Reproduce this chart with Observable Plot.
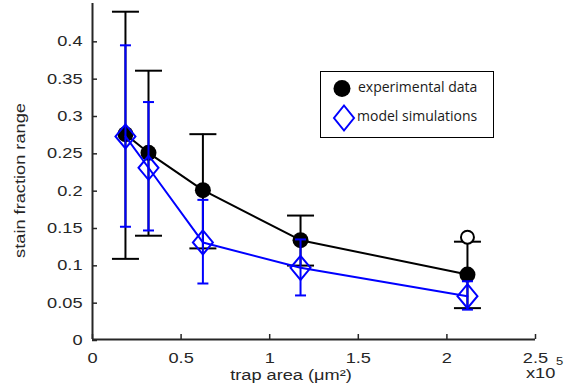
<!DOCTYPE html>
<html>
<head>
<meta charset="utf-8">
<script src="https://cdn.jsdelivr.net/npm/d3@7"></script>
<script src="https://cdn.jsdelivr.net/npm/@observablehq/plot@0.6"></script>
<style>
  html, body { margin: 0; padding: 0; background: #fff; }
  #wrap { position: relative; width: 566px; height: 392px; overflow: hidden; }
  #legend { position: absolute; left: 320px; top: 71px; width: 174px; height: 67px; border: 1px solid #000; background: #fff; box-sizing: border-box; font-family: "Open Sans", sans-serif; font-size: 14px; color: #1a1a1a; }
  #legend .row { position: absolute; left: 0; white-space: nowrap; }
  #legend svg { position: absolute; left: 0; top: 0; }
  .expo { position: absolute; font-family: "Liberation Sans", Arial, sans-serif; color: #262626; white-space: nowrap; transform: scaleX(1.3); transform-origin: left center; }
  #expoBase { left: 526px; top: 367.5px; font-size: 14px; line-height: 10px; }
  #expoPow { left: 556px; top: 357px; font-size: 10px; line-height: 9px; }
</style>
</head>
<body>
<div id="wrap"></div>
<script>
// trap area in units of 1e5 µm²
const xArea = [0.186, 0.316, 0.623, 1.174, 2.116];
// experimental data (black)
const expMean = [0.275, 0.250, 0.200, 0.133, 0.087];
const expLow  = [0.108, 0.139, 0.122, 0.099, 0.042];
const expHigh = [0.439, 0.360, 0.275, 0.166, 0.131];
// model simulations (blue)
const simMean = [0.272, 0.230, 0.130, 0.096, 0.058];
const simLow  = [0.151, 0.146, 0.075, 0.059, 0.040];
const simHigh = [0.394, 0.318, 0.187, 0.134, 0.078];
// extra open-circle point
const openX = [2.116];
const openY = [0.137];
// ticks
const xTicks = [0, 0.5, 1, 1.5, 2, 2.5];
const yTicks = [0, 0.05, 0.1, 0.15, 0.2, 0.25, 0.3, 0.35, 0.4];
const xLabel = "trap area (\u03bcm\u00b2)";
const yLabel = "stain fraction range";
const expoBase = "x10";
const expoPow = "5";
const legendLabels = ["experimental data", "model simulations"];

const exp = xArea.map((x, i) => ({x, y: expMean[i], lo: expLow[i], hi: expHigh[i]}));
const sim = xArea.map((x, i) => ({x, y: simMean[i], lo: simLow[i], hi: simHigh[i]}));
const open = openX.map((x, i) => ({x, y: openY[i]}));

const capSymbol = {
  draw(ctx, size) {
    const w = Math.sqrt(size / Math.PI);
    ctx.moveTo(-w, 0); ctx.lineTo(w, 0);
  }
};
const diamondSymbol = {
  draw(ctx, size) {
    const w = Math.sqrt(size / Math.PI), h = w * 1.2;
    ctx.moveTo(0, -h); ctx.lineTo(w, 0); ctx.lineTo(0, h); ctx.lineTo(-w, 0); ctx.closePath();
  }
};

const axisColor = "#262626";
const fmt = d => String(d);
const FF = "Liberation Sans";
const FS = 14;

const chart = Plot.plot({
  width: 566, height: 392,
  marginLeft: 92, marginRight: 31, marginTop: 3, marginBottom: 53,
  x: {domain: [0, 2.5]},
  y: {domain: [0, 0.45]},
  style: {"font-family": "Liberation Sans, Arial, sans-serif", "font-size": "14px", color: axisColor, background: "white"},
  marks: [
    Plot.axisX({ticks: xTicks, tickFormat: fmt, tickSize: -5, tickPadding: 19, label: null, strokeWidth: 1.5, fontSize: FS, fontFamily: FF}),
    Plot.axisY({ticks: yTicks, tickFormat: fmt, tickSize: -5, tickPadding: 15, label: null, strokeWidth: 1.5, fontSize: FS, fontFamily: FF, dy: 1}),
    Plot.ruleX([0], {stroke: axisColor, strokeWidth: 2}),
    Plot.ruleY([0], {stroke: axisColor, strokeWidth: 2}),
    Plot.text([xLabel], {text: d => d, frameAnchor: "bottom", dx: -23, dy: 40, fontSize: FS, fontFamily: FF, fill: axisColor}),
    Plot.text([yLabel], {text: d => d, frameAnchor: "left", textAnchor: "middle", rotate: -90, dx: -72, dy: 9, fontSize: FS, fontFamily: FF, fill: axisColor}),
    // experimental
    Plot.line(exp, {x: "x", y: "y", stroke: "#000", strokeWidth: 2}),
    Plot.ruleX(exp, {x: "x", y1: "lo", y2: "hi", stroke: "#000", strokeWidth: 2}),
    Plot.dot(exp, {x: "x", y: "lo", symbol: capSymbol, r: 13.5, stroke: "#000", strokeWidth: 2, fill: "none"}),
    Plot.dot(exp, {x: "x", y: "hi", symbol: capSymbol, r: 13.5, stroke: "#000", strokeWidth: 2, fill: "none"}),
    Plot.dot(exp, {x: "x", y: "y", r: 8, fill: "#000", stroke: "none"}),
    Plot.dot(open, {x: "x", y: "y", r: 6.5, fill: "white", stroke: "#000", strokeWidth: 2}),
    // simulations
    Plot.line(sim, {x: "x", y: "y", stroke: "#0000ff", strokeWidth: 2}),
    Plot.ruleX(sim, {x: "x", y1: "lo", y2: "hi", stroke: "#0000ff", strokeWidth: 2}),
    Plot.dot(sim, {x: "x", y: "lo", symbol: capSymbol, r: 5.5, stroke: "#0000ff", strokeWidth: 2, fill: "none"}),
    Plot.dot(sim, {x: "x", y: "hi", symbol: capSymbol, r: 5.5, stroke: "#0000ff", strokeWidth: 2, fill: "none"}),
    Plot.dot(sim, {x: "x", y: "y", symbol: diamondSymbol, r: 10, stroke: "#0000ff", strokeWidth: 2, fill: "none"})
  ]
});

const wrap = document.getElementById("wrap");
wrap.appendChild(chart);

// the reference's lettering is horizontally wide: stretch glyphs ×1.3
chart.querySelectorAll("text").forEach(t => {
  const L = t.getComputedTextLength();
  if (L > 0) {
    t.setAttribute("textLength", (L * 1.3).toFixed(2));
    t.setAttribute("lengthAdjust", "spacingAndGlyphs");
  }
});

// legend
const legend = document.createElement("div");
legend.id = "legend";
legend.innerHTML = `
  <svg width="172" height="65">
    <circle cx="21" cy="16.5" r="8.5" fill="#000"/>
    <path d="M23,33.5 L33,46 L23,58.5 L13,46 Z" fill="none" stroke="#0000ff" stroke-width="2"/>
  </svg>
  <div class="row" style="left:37px; top:5px;">${legendLabels[0]}</div>
  <div class="row" style="left:36px; top:34px;">${legendLabels[1]}</div>`;
wrap.appendChild(legend);

const eb = document.createElement("div");
eb.className = "expo"; eb.id = "expoBase"; eb.textContent = expoBase;
wrap.appendChild(eb);
const ep = document.createElement("div");
ep.className = "expo"; ep.id = "expoPow"; ep.textContent = expoPow;
wrap.appendChild(ep);
</script>
</body>
</html>
